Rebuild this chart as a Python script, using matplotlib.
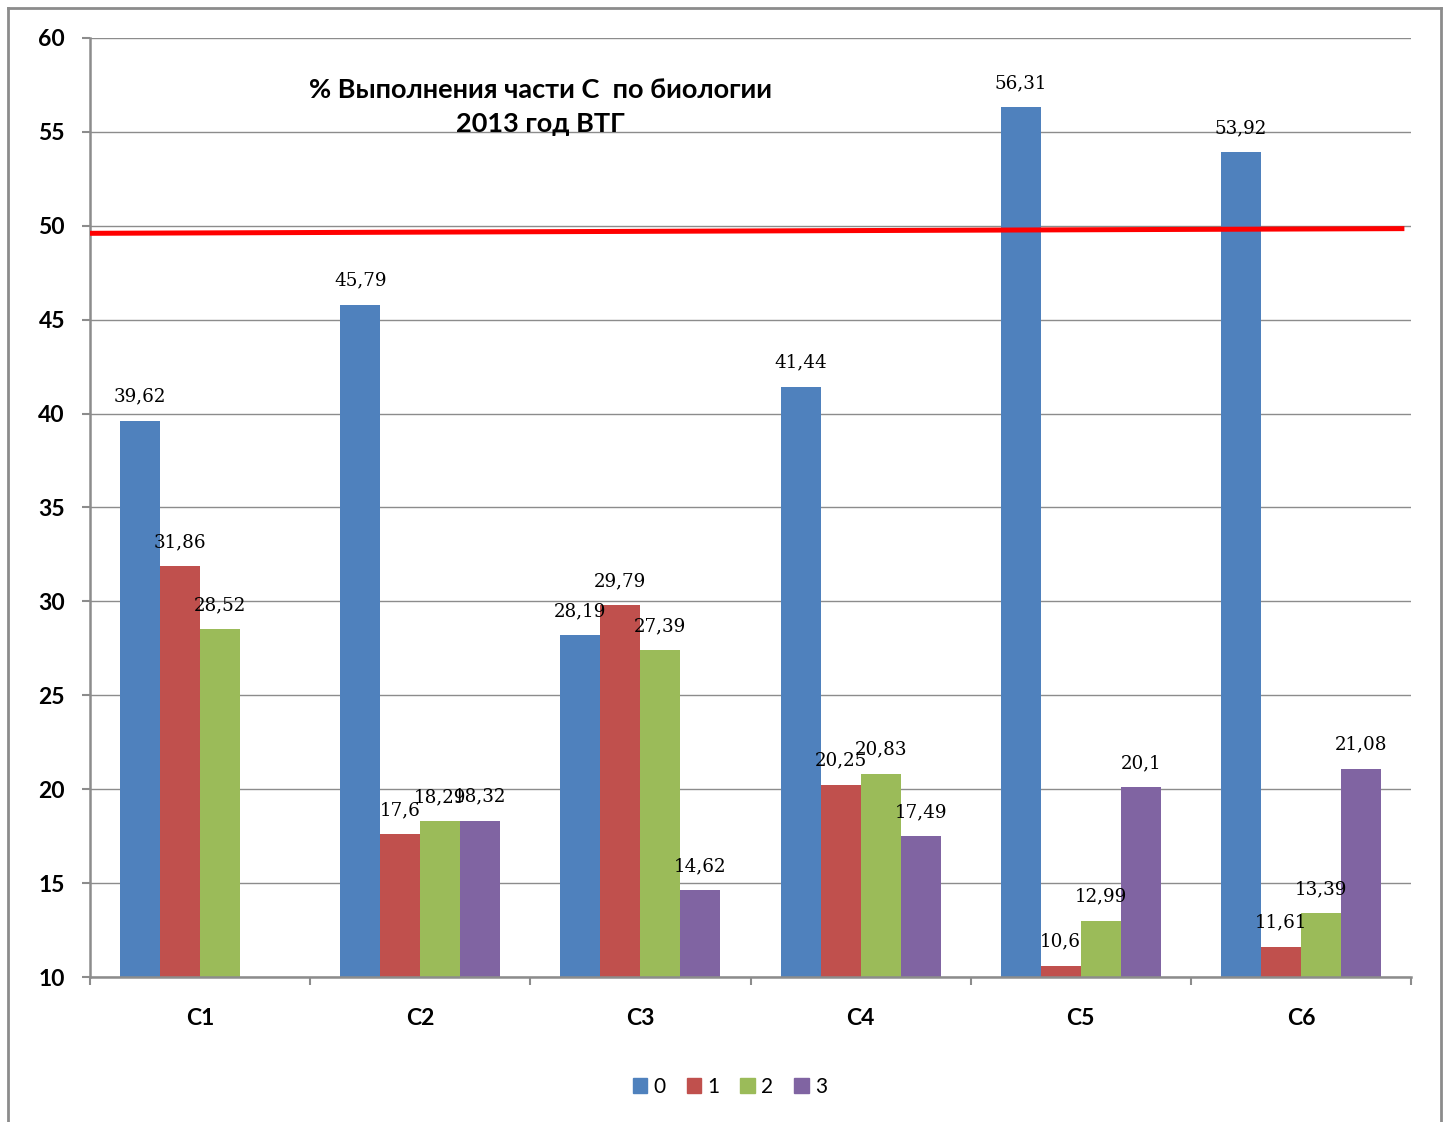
import numpy as np
import matplotlib.pyplot as plt
from matplotlib.lines import Line2D
from matplotlib.patches import Patch

categories = ["C1", "C2", "C3", "C4", "C5", "C6"]
series_names = ["0", "1", "2", "3"]
values_0 = [39.62, 45.79, 28.19, 41.44, 56.31, 53.92]
values_1 = [31.86, 17.6, 29.79, 20.25, 10.6, 11.61]
values_2 = [28.52, 18.29, 27.39, 20.83, 12.99, 13.39]
values_3 = [None, 18.32, 14.62, 17.49, 20.1, 21.08]

# red reference line (hand-drawn, slightly sloped)
threshold_x = [-0.5, 5.47]
threshold_y = [49.6, 49.85]

colors = ["#4F81BD", "#C0504D", "#9BBB59", "#8064A2"]
title = "% Выполнения части С  по биологии\n2013 год ВТГ"

fig = plt.figure(figsize=(14.46, 11.22), dpi=100)
ax = fig.add_axes([90 / 1446, 1 - 977 / 1122, 1321 / 1446, 939 / 1122])

# outer chart frame
frame_kw = dict(color="#8c8c8c", lw=2, transform=fig.transFigure)
fl, fr, ft = 8 / 1446, 1441 / 1446, 1 - 8 / 1122
fig.add_artist(Line2D([fl, fl], [-0.01, ft], **frame_kw))
fig.add_artist(Line2D([fl, fr], [ft, ft], **frame_kw))
fig.add_artist(Line2D([fr, fr], [ft, -0.01], **frame_kw))

x = np.arange(len(categories))
width = 40 / 220
all_series = [values_0, values_1, values_2, values_3]

for i, vals in enumerate(all_series):
    offs = (i - 1.5) * width
    for j, v in enumerate(vals):
        if v is None:
            continue
        ax.bar(x[j] + offs, v, width, color=colors[i], zorder=2)
        ax.annotate(str(v).replace(".", ","), (x[j] + offs, v),
                    xytext=(0, 11), textcoords="offset points",
                    ha="center", va="bottom", fontsize=13.2,
                    family="DejaVu Serif", zorder=4)

ax.plot(threshold_x, threshold_y, color="#FF0000", lw=3.6, zorder=3,
        solid_capstyle="butt")

ax.set_ylim(10, 60)
ax.set_xlim(-0.5, 5.5)
ax.set_yticks(np.arange(10, 61, 5))
ax.set_yticklabels([str(t) for t in range(10, 61, 5)],
                   fontsize=16.5, fontweight="bold", family="Lato")
ax.set_xticks(x)
ax.set_xticklabels(categories, fontsize=16.5, fontweight="bold", family="Lato")
ax.set_xticks(np.arange(-0.5, 6, 1), minor=True)
ax.tick_params(axis="x", which="major", length=0, pad=22)
ax.tick_params(axis="x", which="minor", length=6, width=1.5, color="#8c8c8c")
ax.tick_params(axis="y", length=6, width=1.5, color="#8c8c8c", pad=12)

ax.yaxis.grid(True, color="#8c8c8c", lw=1)
ax.set_axisbelow(True)
for s in ["top", "right"]:
    ax.spines[s].set_visible(False)
for s in ["left", "bottom"]:
    ax.spines[s].set_color("#8c8c8c")
    ax.spines[s].set_linewidth(1.8)

ax.text(0.3407, 0.926, title, transform=ax.transAxes, ha="center", va="center",
        fontsize=19.5, fontweight="bold", family="Lato", linespacing=1.5)

handles = [Patch(color=c, label=n) for c, n in zip(colors, series_names)]
fig.legend(handles=handles, loc="center", bbox_to_anchor=(730 / 1446, 1 - 1087 / 1122),
           ncol=4, frameon=False, prop={"family": "Lato", "size": 15},
           handlelength=0.7, handleheight=0.7, handletextpad=0.3, columnspacing=1.0)

fig.savefig("out.png", dpi=100)
